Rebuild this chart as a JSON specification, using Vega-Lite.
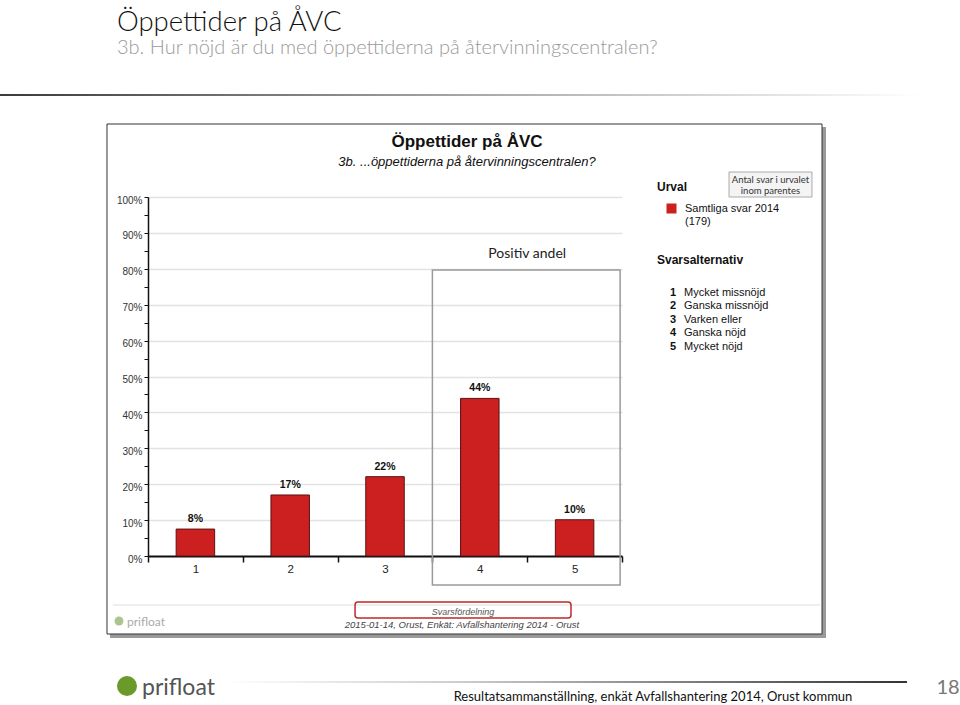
{
  "$schema": "https://vega.github.io/schema/vega-lite/v6.json",
  "width": 474,
  "height": 359,
  "autosize": {"type": "none"},
  "padding": {"left": 148, "top": 197, "right": 338, "bottom": 149},
  "background": "white",
  "config": {"view": {"stroke": null}, "font": "Liberation Sans"},
  "title": {
    "text": "Öppettider på ÅVC",
    "subtitle": "3b. Hur nöjd är du med öppettiderna på återvinningscentralen?",
    "anchor": "start",
    "frame": "group",
    "dx": -31,
    "offset": 36,
    "font": "Lato",
    "fontSize": 27.5,
    "fontWeight": 300,
    "color": "#111111",
    "subtitleFont": "Lato",
    "subtitleFontSize": 20,
    "subtitleFontWeight": 300,
    "subtitleColor": "#9a9a9a",
    "subtitlePadding": 2
  },
  "resolve": {"axis": {"x": "independent", "y": "independent"}},
  "datasets": {
    "svar": [
      {"alt": 1, "svar": "Mycket missnöjd", "andel": 0.075, "urval": "Samtliga svar 2014 (179)"},
      {"alt": 2, "svar": "Ganska missnöjd", "andel": 0.170, "urval": "Samtliga svar 2014 (179)"},
      {"alt": 3, "svar": "Varken eller", "andel": 0.221, "urval": "Samtliga svar 2014 (179)"},
      {"alt": 4, "svar": "Ganska nöjd", "andel": 0.439, "urval": "Samtliga svar 2014 (179)"},
      {"alt": 5, "svar": "Mycket nöjd", "andel": 0.101, "urval": "Samtliga svar 2014 (179)"}
    ],
    "one": [{}]
  },
  "layer": [
    {
      "data": {"name": "one"},
      "mark": {"type": "rect", "fill": {"gradient": "linear", "x1": 0, "x2": 1, "y1": 0, "y2": 0, "stops": [{"offset": 0, "color": "#3a3a3a"}, {"offset": 0.45, "color": "#a0a0a0"}, {"offset": 0.96, "color": "#ffffff"}]}},
      "encoding": {"x": {"datum": -1.061, "axis": null}, "x2": {"datum": 9.065}, "y": {"datum": 1.2869, "axis": null}, "y2": {"datum": 1.2813}}
    },
    {
      "data": {"name": "one"},
      "mark": {"type": "rect", "fill": "#9a9a9a"},
      "encoding": {"x": {"datum": 7.61, "axis": null}, "x2": {"datum": 7.652}, "y": {"datum": 1.195, "axis": null}, "y2": {"datum": -0.2284}}
    },
    {
      "data": {"name": "one"},
      "mark": {"type": "rect", "fill": "#9a9a9a"},
      "encoding": {"x": {"datum": 0.0992, "axis": null}, "x2": {"datum": 7.652}, "y": {"datum": -0.2173, "axis": null}, "y2": {"datum": -0.2284}}
    },
    {
      "data": {"name": "one"},
      "mark": {"type": "rect", "fillOpacity": 0, "stroke": "#333333", "strokeWidth": 1},
      "encoding": {"x": {"datum": 0.0675, "axis": null}, "x2": {"datum": 7.61}, "y": {"datum": 1.2033, "axis": null}, "y2": {"datum": -0.2173}}
    },
    {
      "data": {"name": "one"},
      "mark": {"type": "text", "text": "Öppettider på ÅVC", "font": "Liberation Sans", "fontSize": 17, "fontWeight": "bold", "color": "#111111", "align": "center", "baseline": "alphabetic"},
      "encoding": {"x": {"datum": 3.865, "axis": null}, "y": {"datum": 1.139, "axis": null}}
    },
    {
      "data": {"name": "one"},
      "mark": {"type": "text", "text": "3b. ...öppettiderna på återvinningscentralen?", "font": "Liberation Sans", "fontSize": 13, "fontStyle": "italic", "color": "#111111", "align": "center", "baseline": "alphabetic"},
      "encoding": {"x": {"datum": 3.865, "axis": null}, "y": {"datum": 1.086, "axis": null}}
    },
    {
      "data": {"name": "one"},
      "mark": {"type": "rect", "fill": "#f4f4f4", "stroke": "#aaaaaa", "strokeWidth": 1},
      "encoding": {"x": {"datum": 6.629, "axis": null}, "x2": {"datum": 7.504}, "y": {"datum": 1.0696, "axis": null}, "y2": {"datum": 1.0}}
    },
    {
      "data": {"name": "one"},
      "mark": {"type": "text", "text": "Antal svar i urvalet", "font": "Lato", "fontSize": 9.5, "color": "#333333", "align": "center", "baseline": "alphabetic"},
      "encoding": {"x": {"datum": 7.066, "axis": null}, "y": {"datum": 1.039, "axis": null}}
    },
    {
      "data": {"name": "one"},
      "mark": {"type": "text", "text": "inom  parentes", "font": "Lato", "fontSize": 9.5, "color": "#333333", "align": "center", "baseline": "alphabetic"},
      "encoding": {"x": {"datum": 7.066, "axis": null}, "y": {"datum": 1.008, "axis": null}}
    },
    {
      "data": {"name": "one"},
      "mark": {"type": "rect", "fillOpacity": 0, "stroke": "#9a9a9a", "strokeWidth": 1.5},
      "encoding": {"x": {"datum": 3.5, "axis": null}, "x2": {"datum": 5.48}, "y": {"datum": 0.7967, "axis": null}, "y2": {"datum": -0.0808}}
    },
    {
      "data": {"name": "one"},
      "mark": {"type": "text", "text": "Positiv andel", "font": "Lato", "fontSize": 14, "color": "#222222", "align": "center", "baseline": "alphabetic"},
      "encoding": {"x": {"datum": 4.5, "axis": null}, "y": {"datum": 0.83, "axis": null}}
    },
    {
      "data": {"name": "svar"},
      "mark": {"type": "bar", "width": 38.5, "stroke": "#5a1212", "strokeWidth": 1},
      "encoding": {
        "x": {
          "field": "alt", "type": "quantitative",
          "scale": {"domain": [0.5, 5.5], "nice": false, "zero": false, "padding": 0},
          "axis": {
            "orient": "bottom",
            "values": [1, 2, 3, 4, 5],
            "format": "d",
            "grid": false,
            "ticks": false,
            "tickSize": 0,
            "title": null,
            "domainColor": "#111111",
            "domainWidth": 2,
            "labelFont": "Liberation Sans",
            "labelFontSize": 11.5,
            "labelColor": "#222222",
            "labelPadding": 7
          }
        },
        "y": {
          "field": "andel", "type": "quantitative",
          "scale": {"domain": [0, 1], "nice": false, "padding": 0},
          "axis": {
            "orient": "left",
            "values": [0, 0.1, 0.2, 0.3, 0.4, 0.5, 0.6, 0.7, 0.8, 0.9, 1],
            "format": ".0%",
            "labelOverlap": false,
            "grid": true,
            "gridColor": "#e2e2e2",
            "gridWidth": 1.5,
            "domainColor": "#111111",
            "domainWidth": 1.5,
            "tickColor": "#111111",
            "tickSize": 4,
            "labelFont": "Liberation Sans",
            "labelFontSize": 10,
            "labelColor": "#333333",
            "labelPadding": 2,
            "labelOffset": 3,
            "title": null
          }
        },
        "color": {
          "field": "urval", "type": "nominal",
          "scale": {"range": ["#cc2020"]},
          "legend": {
            "title": "Urval",
            "orient": "none",
            "legendX": 509,
            "legendY": -15,
            "symbolType": "square",
            "symbolSize": 100,
            "symbolStrokeWidth": 0,
            "symbolOffset": 9,
            "labelOffset": 8,
            "labelExpr": "['Samtliga svar 2014', '(179)']",
            "labelFont": "Liberation Sans",
            "labelFontSize": 11,
            "labelColor": "#111111",
            "labelLimit": 0,
            "titleFont": "Liberation Sans",
            "titleFontSize": 12,
            "titleFontWeight": "bold",
            "titleColor": "#111111",
            "titlePadding": 9
          }
        }
      }
    },
    {
      "data": {"name": "svar"},
      "mark": {"type": "text", "font": "Liberation Sans", "fontSize": 10.5, "fontWeight": "bold", "color": "#111111", "baseline": "bottom", "dy": -5},
      "encoding": {
        "x": {
          "field": "alt", "type": "quantitative",
          "axis": {
            "orient": "bottom",
            "values": [0.5, 1.5, 2.5, 3.5, 4.5, 5.5],
            "labels": false,
            "domain": false,
            "grid": false,
            "title": null,
            "tickColor": "#111111",
            "tickWidth": 1.5,
            "tickSize": 6
          }
        },
        "y": {
          "field": "andel", "type": "quantitative",
          "axis": {
            "orient": "left",
            "values": [0.05, 0.15, 0.25, 0.35, 0.45, 0.55, 0.65, 0.75, 0.85, 0.95],
            "labels": false,
            "domain": false,
            "grid": false,
            "title": null,
            "tickColor": "#111111",
            "tickSize": 4
          }
        },
        "text": {"field": "andel", "type": "quantitative", "format": ".0%"}
      }
    },
    {
      "data": {"name": "svar"},
      "mark": {"type": "point", "opacity": 0},
      "encoding": {
        "x": {"field": "alt", "type": "quantitative", "axis": null},
        "y": {"datum": 0, "axis": null},
        "shape": {
          "field": "alt", "type": "nominal",
          "legend": {
            "title": "Svarsalternativ",
            "orient": "none",
            "legendX": 509,
            "legendY": 58,
            "symbolType": "circle",
            "symbolSize": 36,
            "symbolOpacity": 0,
            "symbolStrokeWidth": 0,
            "labelOffset": 2,
            "labelFont": "Liberation Sans",
            "labelFontSize": 11,
            "labelFontWeight": "bold",
            "labelColor": "#111111",
            "titleFont": "Liberation Sans",
            "titleFontSize": 12,
            "titleFontWeight": "bold",
            "titleColor": "#111111",
            "titlePadding": 20,
            "rowPadding": 1.5
          }
        },
        "strokeDash": {
          "field": "svar", "type": "nominal",
          "scale": {"domain": ["Mycket missnöjd", "Ganska missnöjd", "Varken eller", "Ganska nöjd", "Mycket nöjd"]},
          "legend": {
            "title": null,
            "orient": "none",
            "legendX": 520,
            "legendY": 90,
            "symbolType": "circle",
            "symbolSize": 36,
            "symbolOpacity": 0,
            "symbolStrokeWidth": 0,
            "labelOffset": 5,
            "labelFont": "Liberation Sans",
            "labelFontSize": 11,
            "labelColor": "#111111",
            "rowPadding": 1.5
          }
        }
      }
    },
    {
      "data": {"name": "one"},
      "mark": {"type": "rule", "stroke": "#dddddd", "strokeWidth": 1},
      "encoding": {"x": {"datum": 0.131, "axis": null}, "x2": {"datum": 7.589}, "y": {"datum": -0.1365, "axis": null}}
    },
    {
      "data": {"name": "one"},
      "mark": {"type": "rect", "fillOpacity": 0, "stroke": "#c0282d", "strokeWidth": 1.5, "cornerRadius": 3},
      "encoding": {"x": {"datum": 2.684, "axis": null}, "x2": {"datum": 4.962}, "y": {"datum": -0.1281, "axis": null}, "y2": {"datum": -0.1727}}
    },
    {
      "data": {"name": "one"},
      "mark": {"type": "text", "text": "Svarsfördelning", "font": "Liberation Sans", "fontSize": 9, "fontStyle": "italic", "color": "#555555", "align": "center", "baseline": "alphabetic"},
      "encoding": {"x": {"datum": 3.823, "axis": null}, "y": {"datum": -0.1643, "axis": null}}
    },
    {
      "data": {"name": "one"},
      "mark": {"type": "text", "text": "2015-01-14, Orust, Enkät: Avfallshantering 2014 - Orust", "font": "Liberation Sans", "fontSize": 9.5, "fontStyle": "italic", "color": "#444444", "align": "center", "baseline": "alphabetic"},
      "encoding": {"x": {"datum": 3.812, "axis": null}, "y": {"datum": -0.2006, "axis": null}}
    },
    {
      "data": {"name": "one"},
      "mark": {"type": "point", "filled": true, "size": 80, "color": "#8aab5f", "opacity": 0.7},
      "encoding": {"x": {"datum": 0.194, "axis": null}, "y": {"datum": -0.181, "axis": null}}
    },
    {
      "data": {"name": "one"},
      "mark": {"type": "text", "text": "prifloat", "font": "Lato", "fontSize": 12, "color": "#aaaaaa", "align": "left", "baseline": "alphabetic"},
      "encoding": {"x": {"datum": 0.2785, "axis": null}, "y": {"datum": -0.195, "axis": null}}
    },
    {
      "data": {"name": "one"},
      "mark": {"type": "rect", "fill": {"gradient": "linear", "x1": 0, "x2": 1, "y1": 0, "y2": 0, "stops": [{"offset": 0, "color": "#ffffff"}, {"offset": 0.35, "color": "#cccccc"}, {"offset": 1, "color": "#333333"}]}},
      "encoding": {"x": {"datum": 1.312, "axis": null}, "x2": {"datum": 8.506}, "y": {"datum": -0.3482, "axis": null}, "y2": {"datum": -0.3538}}
    },
    {
      "data": {"name": "one"},
      "mark": {"type": "point", "filled": true, "size": 400, "color": "#6a9a2a", "opacity": 1},
      "encoding": {"x": {"datum": 0.2785, "axis": null}, "y": {"datum": -0.3621, "axis": null}}
    },
    {
      "data": {"name": "one"},
      "mark": {"type": "text", "text": "prifloat", "font": "Lato", "fontSize": 23, "color": "#555555", "align": "left", "baseline": "alphabetic"},
      "encoding": {"x": {"datum": 0.4367, "axis": null}, "y": {"datum": -0.3872, "axis": null}}
    },
    {
      "data": {"name": "one"},
      "mark": {"type": "text", "text": "18", "font": "Lato", "fontSize": 20, "color": "#777777", "align": "center", "baseline": "alphabetic"},
      "encoding": {"x": {"datum": 8.939, "axis": null}, "y": {"datum": -0.3844, "axis": null}}
    },
    {
      "data": {"name": "one"},
      "mark": {"type": "text", "text": "Resultatsammanställning, enkät Avfallshantering 2014, Orust kommun", "font": "Lato", "fontSize": 13, "color": "#111111", "align": "center", "baseline": "alphabetic"},
      "encoding": {"x": {"datum": 5.827, "axis": null}, "y": {"datum": -0.4039, "axis": null}}
    }
  ]
}
